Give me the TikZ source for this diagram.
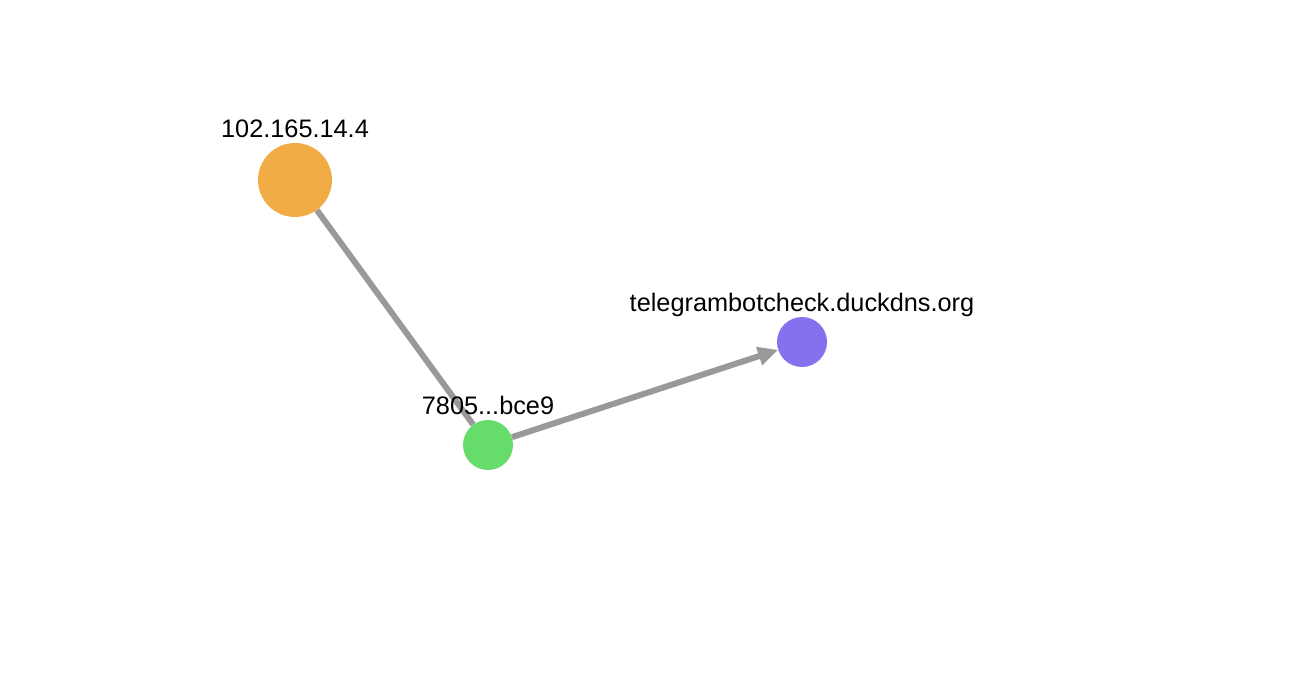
\documentclass[tikz,border=0pt]{standalone}
\usepackage{fontspec}
\setmainfont{Liberation Sans}
\usetikzlibrary{arrows.meta,positioning,backgrounds}

\definecolor{ipcolor}{RGB}{242,172,69}
\definecolor{filecolor}{RGB}{102,221,106}
\definecolor{domaincolor}{RGB}{135,112,238}
\definecolor{edgecolor}{RGB}{153,153,153}

\begin{document}
\begin{tikzpicture}[
    x=1pt, y=-1pt,
    host/.style={circle, draw=none, inner sep=0pt},
    tag/.style={font=\fontsize{25.3}{30}\selectfont, inner sep=0pt},
    link/.style={draw=edgecolor, line width=6pt},
    linkarrow/.style={link, -{Triangle[length=20pt,width=18pt]}}
]

% Frame
\useasboundingbox (0,0) rectangle (1294,682);

% Nodes
\node[host, fill=ipcolor, minimum size=74pt] (ip) at (295,180) {};
\node[host, fill=filecolor, minimum size=50pt] (file) at (488,445) {};
\node[host, fill=domaincolor, minimum size=50pt] (domain) at (802,342) {};

% Labels
\node[tag, above=5pt of ip.north, anchor=base] (ip-label) {102.165.14.4};
\node[tag, above=5pt of file.north, anchor=base] (file-label) {7805...bce9};
\node[tag, above=5pt of domain.north, anchor=base] (domain-label) {telegrambotcheck.duckdns.org};

% Edges
\begin{scope}[on background layer]
    \draw[link] (ip) -- (file);
    \draw[linkarrow] (file) -- (domain);
\end{scope}

\end{tikzpicture}
\end{document}
